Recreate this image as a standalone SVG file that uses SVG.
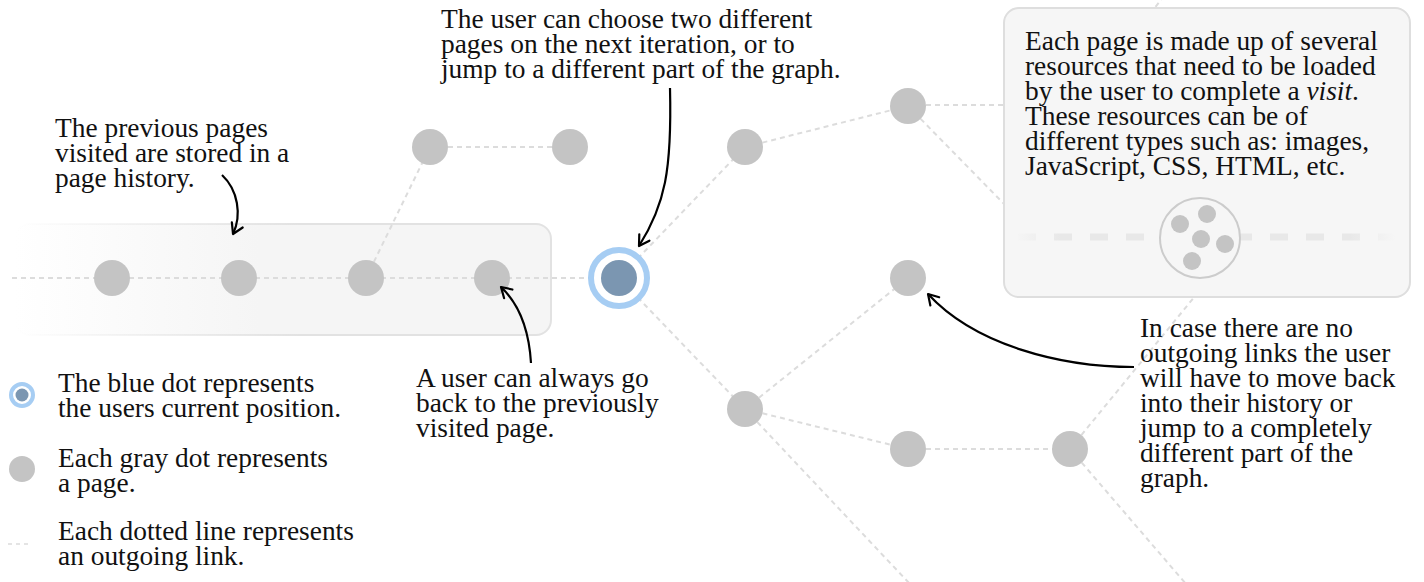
<svg xmlns="http://www.w3.org/2000/svg" width="1424" height="582" viewBox="0 0 1424 582">
<style>
text{font-family:"Liberation Serif","Times New Roman",serif;font-size:27.4px;fill:#111}
.link{stroke:#dcdcdc;stroke-width:2;stroke-dasharray:5 4;fill:none}
.page{fill:#c4c4c4}
.arrow{stroke:#000;stroke-width:2.2;fill:none;marker-end:url(#head)}
</style>
<defs>
<marker id="head" viewBox="-12 -8 14 16" markerWidth="14" markerHeight="16" refX="0" refY="0" orient="auto" markerUnits="userSpaceOnUse">
<path d="M-10,-6 L0,0 L-10,6" fill="none" stroke="#000" stroke-width="2.2" stroke-linecap="round" stroke-linejoin="round"/>
</marker>
<linearGradient id="histFill" gradientUnits="userSpaceOnUse" x1="15" y1="0" x2="260" y2="0">
<stop offset="0" stop-color="#ffffff"/>
<stop offset="1" stop-color="#f5f5f5"/>
</linearGradient>
<linearGradient id="histStroke" gradientUnits="userSpaceOnUse" x1="15" y1="0" x2="300" y2="0">
<stop offset="0" stop-color="#e2e2e2" stop-opacity="0"/>
<stop offset="1" stop-color="#e2e2e2"/>
</linearGradient>
<linearGradient id="lineFade" gradientUnits="userSpaceOnUse" x1="10" y1="0" x2="100" y2="0">
<stop offset="0" stop-color="#dcdcdc" stop-opacity="0"/>
<stop offset="1" stop-color="#dcdcdc"/>
</linearGradient>
<linearGradient id="resFade" gradientUnits="userSpaceOnUse" x1="1015" y1="0" x2="1395" y2="0">
<stop offset="0" stop-color="#e8e8e8" stop-opacity="0"/>
<stop offset="0.12" stop-color="#e8e8e8"/>
<stop offset="0.88" stop-color="#e8e8e8"/>
<stop offset="1" stop-color="#e8e8e8" stop-opacity="0"/>
</linearGradient>
</defs>

<g id="history-box">
<rect x="15" y="224" width="536" height="111" rx="15" fill="url(#histFill)" stroke="url(#histStroke)" stroke-width="2"/>
</g>

<g id="connectors">
<line x1="12" y1="278" x2="619" y2="278" class="link" stroke="url(#lineFade)"/>
<line x1="366" y1="278" x2="430" y2="147" class="link"/>
<line x1="430" y1="147" x2="570" y2="147" class="link"/>
<line x1="619" y1="278" x2="745" y2="147" class="link"/>
<line x1="745" y1="147" x2="908" y2="106" class="link"/>
<line x1="908" y1="105" x2="1010" y2="105" class="link"/>
<line x1="908" y1="106" x2="1010" y2="210" class="link"/>
<line x1="1150" y1="14" x2="1164" y2="-4" class="link"/>
<line x1="619" y1="278" x2="745" y2="409" class="link"/>
<line x1="745" y1="409" x2="908" y2="278" class="link"/>
<line x1="745" y1="409" x2="908" y2="449" class="link"/>
<line x1="745" y1="409" x2="910" y2="584" class="link"/>
<line x1="908" y1="449" x2="1070" y2="449" class="link"/>
<line x1="1070" y1="449" x2="1200" y2="290" class="link"/>
<line x1="1070" y1="449" x2="1186" y2="584" class="link"/>
</g>

<g id="nodes">
<g id="h1"><circle cx="112" cy="278" r="18" class="page"/></g>
<g id="h2"><circle cx="239" cy="278" r="18" class="page"/></g>
<g id="h3"><circle cx="366" cy="278" r="18" class="page"/></g>
<g id="h4"><circle cx="492" cy="278" r="18" class="page"/></g>
<g id="p-top1"><circle cx="430" cy="147" r="18" class="page"/></g>
<g id="p-top2"><circle cx="570" cy="147" r="18" class="page"/></g>
<g id="current">
<circle cx="619" cy="278" r="28" fill="#fff" stroke="#a6cdf3" stroke-width="6"/>
<circle cx="619" cy="278" r="18" fill="#7b96b1"/>
</g>
<g id="p-a"><circle cx="745" cy="147" r="18" class="page"/></g>
<g id="p-b"><circle cx="908" cy="106" r="18" class="page"/></g>
<g id="p-c"><circle cx="908" cy="278" r="18" class="page"/></g>
<g id="p-d"><circle cx="745" cy="409" r="18" class="page"/></g>
<g id="p-e"><circle cx="908" cy="449" r="18" class="page"/></g>
<g id="p-f"><circle cx="1070" cy="449" r="18" class="page"/></g>
</g>

<g id="resource-box">
<rect x="1004" y="8" width="406" height="289" rx="15" fill="#f6f6f6" stroke="#dedede" stroke-width="2"/>
<line x1="1015" y1="237" x2="1395" y2="237" stroke="url(#resFade)" stroke-width="7" stroke-dasharray="18 18" stroke-dashoffset="-3"/>
<circle cx="1200" cy="238" r="40" fill="#f6f6f6" stroke="#cccccc" stroke-width="2"/>
<circle cx="1180" cy="224" r="9" class="page"/>
<circle cx="1207" cy="214" r="9" class="page"/>
<circle cx="1201" cy="239" r="9" class="page"/>
<circle cx="1225" cy="244" r="9" class="page"/>
<circle cx="1192" cy="261" r="9" class="page"/>
<text x="1025" y="50">Each page is made up of several</text>
<text x="1025" y="75">resources that need to be loaded</text>
<text x="1025" y="100">by the user to complete a <tspan font-style="italic">visit</tspan>.</text>
<text x="1025" y="125">These resources can be of</text>
<text x="1025" y="150">different types such as: images,</text>
<text x="1025" y="175">JavaScript, CSS, HTML, etc.</text>
</g>

<g id="annotations">
<g id="note-history">
<text x="55" y="137">The previous pages</text>
<text x="55" y="162">visited are stored in a</text>
<text x="55" y="187">page history.</text>
<path class="arrow" d="M222,175 C238,190 242,215 233,234"/>
</g>
<g id="note-choose">
<text x="441" y="28">The user can choose two different</text>
<text x="441" y="53">pages on the next iteration, or to</text>
<text x="441" y="78">jump to a different part of the graph.</text>
<path class="arrow" d="M670,88 C672,170 665,205 639,246"/>
</g>
<g id="note-back">
<text x="416" y="387">A user can always go</text>
<text x="416" y="412">back to the previously</text>
<text x="416" y="437">visited page.</text>
<path class="arrow" d="M531,363 C529,330 520,305 501,287"/>
</g>
<g id="note-nolinks">
<text x="1140" y="337">In case there are no</text>
<text x="1140" y="362">outgoing links the user</text>
<text x="1140" y="387">will have to move back</text>
<text x="1140" y="412">into their history or</text>
<text x="1140" y="437">jump to a completely</text>
<text x="1140" y="462">different part of the</text>
<text x="1140" y="487">graph.</text>
<path class="arrow" d="M1134,367 C1060,367 975,345 928,294"/>
</g>
</g>

<g id="legend">
<g id="legend-blue">
<circle cx="22" cy="395" r="11" fill="#fff" stroke="#a6cdf3" stroke-width="4"/>
<circle cx="22" cy="395" r="6.5" fill="#7b96b1"/>
<text x="58" y="392">The blue dot represents</text>
<text x="58" y="417">the users current position.</text>
</g>
<g id="legend-gray">
<circle cx="22" cy="469" r="13" class="page"/>
<text x="58" y="467">Each gray dot represents</text>
<text x="58" y="492">a page.</text>
</g>
<g id="legend-line">
<line x1="8" y1="544" x2="32" y2="544" stroke="#dcdcdc" stroke-width="1.5" stroke-dasharray="4 4"/>
<text x="58" y="540">Each dotted line represents</text>
<text x="58" y="565">an outgoing link.</text>
</g>
</g>
</svg>
